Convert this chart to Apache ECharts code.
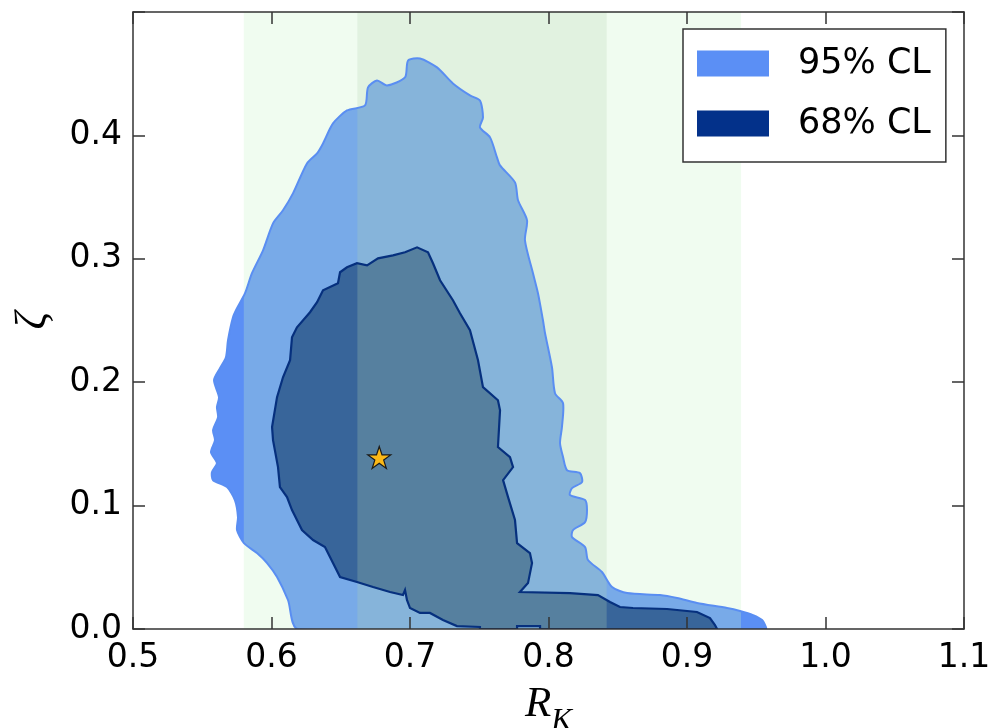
<!DOCTYPE html>
<html>
<head>
<meta charset="utf-8">
<title>R_K - zeta</title>
<script src="https://cdn.jsdelivr.net/npm/echarts@6/dist/echarts.min.js"></script>
<style>
html, body { margin: 0; background: #fff; }
#chart { width: 999px; height: 728px; }
</style>
</head>
<body>
<div id="chart"></div>
<script>
// contours: [R_K, zeta]
var contour95 = [
    [0.6191,0],[0.6119,0.0235],[0.6040,0.0421],[0.5968,0.0534],[0.5895,0.0615],[0.5801,0.0696],
    [0.5751,0.0802],[0.5758,0.0907],[0.5736,0.1045],[0.5679,0.1150],[0.5578,0.1206],[0.5570,0.1271],
    [0.5606,0.1344],[0.5563,0.1433],[0.5592,0.1530],[0.5578,0.1611],[0.5614,0.1717],[0.5606,0.1798],
    [0.5621,0.1879],[0.5585,0.2016],[0.5628,0.2113],[0.5671,0.2202],[0.5686,0.2340],[0.5722,0.2526],
    [0.5751,0.2599],[0.5809,0.2721],[0.5859,0.2883],[0.5939,0.3069],[0.6011,0.3287],[0.6083,0.3393],
    [0.6155,0.3530],[0.6256,0.3773],[0.6329,0.3854],[0.6372,0.3935],[0.6444,0.4097],[0.6545,0.4202],
    [0.6675,0.4243],[0.6697,0.4389],[0.6762,0.4445],[0.6834,0.4405],[0.6964,0.4470],[0.6986,0.4607],
    [0.7072,0.4623],[0.7195,0.4551],[0.7310,0.4421],[0.7433,0.4324],[0.7505,0.4283],[0.7527,0.4146],
    [0.7505,0.4065],[0.7578,0.3984],[0.7628,0.3822],[0.7650,0.3757],[0.7758,0.3619],[0.7780,0.3474],
    [0.7845,0.3312],[0.7830,0.3150],[0.7888,0.2883],[0.7924,0.2721],[0.7960,0.2502],[0.7975,0.2397],
    [0.8025,0.2121],[0.8047,0.1911],[0.8105,0.1830],[0.8097,0.1636],[0.8083,0.1506],[0.8105,0.1393],
    [0.8134,0.1287],[0.8227,0.1263],[0.8242,0.1190],[0.8170,0.1142],[0.8155,0.1085],[0.8264,0.1045],
    [0.8278,0.0964],[0.8264,0.0866],[0.8177,0.0802],[0.8170,0.0745],[0.8264,0.0664],[0.8285,0.0559],
    [0.8386,0.0462],[0.8459,0.0340],[0.8567,0.0291],[0.8805,0.0275],[0.8928,0.0251],[0.9072,0.0211],
    [0.9289,0.0170],[0.9383,0.0146],[0.9477,0.0113],[0.9542,0.0073],[0.9570,0.0016],[0.9570,0]
];
var contour68 = [
    [0.7505,0],[0.7505,0.0016],[0.7339,0.0024],[0.7238,0.0073],[0.7144,0.0130],[0.7072,0.0130],
    [0.7000,0.0170],[0.6978,0.0235],[0.6964,0.0316],[0.6949,0.0275],[0.6856,0.0300],[0.6733,0.0340],
    [0.6617,0.0381],[0.6495,0.0421],[0.6444,0.0534],[0.6386,0.0664],[0.6300,0.0721],[0.6220,0.0802],
    [0.6148,0.0964],[0.6112,0.1069],[0.6061,0.1150],[0.6047,0.1312],[0.6011,0.1530],[0.6004,0.1636],
    [0.6040,0.1879],[0.6083,0.2040],[0.6134,0.2178],[0.6148,0.2364],[0.6184,0.2445],[0.6278,0.2567],
    [0.6329,0.2648],[0.6372,0.2745],[0.6480,0.2802],[0.6495,0.2891],[0.6545,0.2931],[0.6617,0.2964],
    [0.6690,0.2947],[0.6769,0.3004],[0.6877,0.3028],[0.6964,0.3053],[0.7051,0.3093],[0.7130,0.3053],
    [0.7166,0.2964],[0.7217,0.2826],[0.7310,0.2664],[0.7361,0.2559],[0.7433,0.2421],[0.7491,0.2178],
    [0.7527,0.1960],[0.7635,0.1854],[0.7650,0.1773],[0.7635,0.1474],[0.7722,0.1393],[0.7744,0.1312],
    [0.7672,0.1206],[0.7708,0.1069],[0.7758,0.0883],[0.7773,0.0696],[0.7866,0.0615],[0.7881,0.0534],
    [0.7852,0.0372],[0.7794,0.0300],[0.8155,0.0291],[0.8357,0.0275],[0.8444,0.0219],[0.8516,0.0178],
    [0.8610,0.0170],[0.8856,0.0162],[0.9072,0.0138],[0.9166,0.0089],[0.9202,0.0032],[0.9217,0],
    [0.7939,0],[0.7939,0.0024],[0.7773,0.0024],[0.7773,0]
];
// R_K ranges shaded green
var bandOuter = [0.580, 0.939];
var bandInner = [0.662, 0.842];
var bestFit = [[0.6778, 0.139]];
var clNames = ['95% CL', '68% CL'];
var xTicks = [0.5, 0.6, 0.7, 0.8, 0.9, 1.0, 1.1];
var yTicks = [0.0, 0.1, 0.2, 0.3, 0.4];

var c95 = '#5b8ff5', c68 = '#03318a';
var bandColors = ['rgba(199,244,199,0.27)', 'rgba(179,215,176,0.245)'];
var frame = '#333';

var chart = echarts.init(document.getElementById('chart'));

function polyRender(pts, fill, stroke, lw, smooth) {
    return function (params, api) {
        return {
            type: 'polygon',
            shape: { points: pts.map(function (p) { return api.coord(p); }), smooth: smooth || 0 },
            style: { fill: fill, stroke: stroke, lineWidth: lw }
        };
    };
}

function axisCommon(showLabel) {
    return {
        type: 'value',
        z: 10,
        axisLine: { onZero: false, lineStyle: { color: frame, width: 1.5 } },
        axisTick: { inside: true, length: 12, lineStyle: { color: frame, width: 1.5 } },
        splitLine: { show: false },
        axisLabel: {
            show: showLabel,
            fontSize: 33,
            fontFamily: 'DejaVu Sans',
            color: '#000',
            formatter: function (v) { return v.toFixed(1); }
        }
    };
}

var xBottom = axisCommon(true);
xBottom.position = 'bottom';
xBottom.min = xTicks[0]; xBottom.max = xTicks[xTicks.length - 1]; xBottom.interval = 0.1;
xBottom.axisLabel.margin = 13;
xBottom.name = '{r|R}{k|K}';
xBottom.nameLocation = 'middle';
xBottom.nameGap = 54;
xBottom.nameTextStyle = {
    rich: {
        r: { fontFamily: 'Liberation Serif', fontStyle: 'italic', fontSize: 43, lineHeight: 42, verticalAlign: 'top', color: '#000' },
        k: { fontFamily: 'Liberation Serif', fontStyle: 'italic', fontSize: 31, lineHeight: 30, verticalAlign: 'top', padding: [23, 0, 0, 0], color: '#000' }
    }
};
var xTop = axisCommon(false);
xTop.position = 'top';
xTop.min = 0.5; xTop.max = 1.1; xTop.interval = 0.1;

var yLeft = axisCommon(true);
yLeft.position = 'left';
yLeft.min = 0; yLeft.max = 0.5; yLeft.interval = 0.1;
yLeft.axisLabel.margin = 11;
yLeft.axisLabel.formatter = function (v) {
    return yTicks.some(function (t) { return Math.abs(t - v) < 1e-6; }) ? v.toFixed(1) : '';
};
yLeft.name = '\u03B6';
yLeft.nameLocation = 'middle';
yLeft.nameGap = 78;
yLeft.nameTextStyle = { fontFamily: 'Liberation Serif', fontStyle: 'italic', fontSize: 44, color: '#000' };
var yRight = axisCommon(false);
yRight.position = 'right';
yRight.min = 0; yRight.max = 0.5; yRight.interval = 0.1;

var option = {
    animation: false,
    backgroundColor: '#fff',
    grid: { left: 133, right: 35, top: 12, bottom: 99, containLabel: false, outerBoundsMode: 'none' },
    legend: {
        data: clNames,
        orient: 'vertical',
        left: 683,
        top: 29,
        icon: 'rect',
        itemWidth: 72,
        itemHeight: 26,
        itemGap: 25,
        padding: [17, 15, 21, 14],
        backgroundColor: '#fff',
        borderColor: frame,
        borderWidth: 1.5,
        borderRadius: 0,
        selectedMode: false,
        textStyle: { fontSize: 35, fontFamily: 'DejaVu Sans', color: '#000', lineHeight: 26, padding: [0, 0, 0, 24] }
    },
    xAxis: [xBottom, xTop],
    yAxis: [yLeft, yRight],
    series: [
        {
            name: clNames[0], type: 'custom', z: 1, clip: true,
            itemStyle: { color: c95 },
            data: [contour95[0]],
            renderItem: polyRender(contour95, c95, null, 0, 0.25)
        },
        {
            name: clNames[1], type: 'custom', z: 1, clip: true,
            itemStyle: { color: c68 },
            data: [contour68[0]],
            renderItem: polyRender(contour68, c68, null, 0)
        },
        {
            name: 'bands', type: 'custom', z: 2, clip: true,
            data: [bandOuter, bandInner],
            encode: { x: [0, 1] },
            renderItem: function (params, api) {
                var p0 = api.coord([api.value(0), 0.5]);
                var p1 = api.coord([api.value(1), 0]);
                return {
                    type: 'rect',
                    shape: { x: p0[0], y: p0[1], width: p1[0] - p0[0], height: p1[1] - p0[1] },
                    style: { fill: bandColors[params.dataIndex] }
                };
            }
        },
        {
            name: 'edge95', type: 'custom', z: 3, clip: true,
            data: [contour95[0]],
            renderItem: polyRender(contour95, 'none', '#5a8ef2', 2, 0.25)
        },
        {
            name: 'edge68', type: 'custom', z: 3, clip: true,
            data: [contour68[0]],
            renderItem: polyRender(contour68, 'none', '#06307e', 2.2)
        },
        {
            name: 'best fit', type: 'scatter', z: 4,
            data: bestFit,
            symbol: 'path://M50,0 L61.8,35.3 L98.6,35.3 L68.8,57 L80.1,92.2 L50,70.4 L19.9,92.2 L31.2,57 L1.4,35.3 L38.2,35.3 Z',
            symbolSize: [23, 22],
            itemStyle: { color: '#fbb917', borderColor: '#1a1a1a', borderWidth: 1.2, opacity: 1 }
        }
    ]
};

chart.setOption(option);
</script>
</body>
</html>
